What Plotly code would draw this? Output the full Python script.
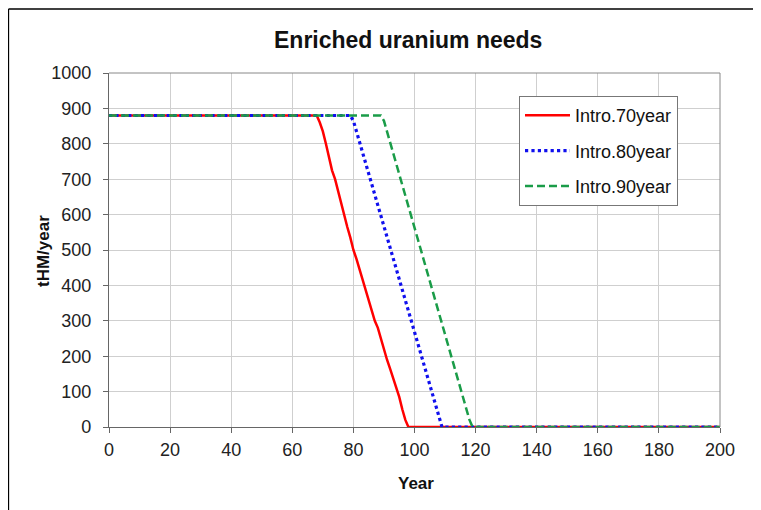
import plotly.graph_objects as go

# Data
years_70 = [0, 68, 69, 70, 71, 72, 73, 74, 75, 76, 77, 78, 79, 80, 81, 82, 83, 84, 85, 86, 87, 88, 89,
            90, 91, 92, 93, 94, 95, 96, 97, 98, 200]
needs_70 = [880, 880, 860, 835, 800, 760, 725, 700, 665, 630, 600, 565, 535, 500, 475, 445, 415, 385, 360,
            330, 300, 280, 250, 215, 190, 165, 140, 115, 85, 50, 20, 0, 0]

years_80 = [0, 79, 80, 81, 82, 83, 84, 85, 86, 87, 88, 89, 90, 91, 92, 93, 94, 95, 96, 97, 98, 99,
            100, 101, 102, 103, 104, 105, 106, 107, 108, 109, 200]
needs_80 = [880, 880, 865, 835, 805, 775, 745, 715, 685, 655, 625, 595, 565, 535, 505, 475, 445, 415,
            385, 355, 325, 295, 265, 235, 205, 175, 145, 115, 85, 55, 25, 0, 0]

years_90 = [0, 89, 90, 91, 92, 93, 94, 95, 96, 97, 98, 99, 100, 101, 102, 103, 104, 105, 106, 107,
            108, 109, 110, 111, 112, 113, 114, 115, 116, 117, 118, 119, 200]
needs_90 = [880, 880, 865, 835, 800, 770, 740, 710, 680, 650, 620, 590, 560, 530, 500, 470, 440, 410,
            380, 350, 320, 290, 260, 230, 200, 170, 140, 110, 80, 50, 20, 0, 0]

series_names = ["Intro.70year", "Intro.80year", "Intro.90year"]
x_ticks = [0, 20, 40, 60, 80, 100, 120, 140, 160, 180, 200]
y_ticks = [0, 100, 200, 300, 400, 500, 600, 700, 800, 900, 1000]

# the page body has an 8px margin, so the figure is laid out in shifted coordinates
OFF = 8
W, H = 761 - OFF, 510 - OFF
L, T = 109 - OFF, 73 - OFF
pw, ph = 611, 354
R, B = W - L - pw, H - T - ph

def px_x(x):   # page-pixel x -> paper x
    return (x - OFF - L) / pw

def px_y(y):   # page-pixel y -> paper y
    return 1 - (y - OFF - T) / ph

FONT = "Arial, Liberation Sans, sans-serif"

fig = go.Figure()
fig.add_trace(go.Scatter(x=years_70, y=needs_70, mode="lines", name=series_names[0],
                         legendgroup="a", line=dict(color="#ff0000", width=2.5)))
fig.add_trace(go.Scatter(x=years_80, y=needs_80, mode="lines", name=series_names[1],
                         legendgroup="b", line=dict(color="#1010ee", width=3.2, dash="dot")))
fig.add_trace(go.Scatter(x=years_90, y=needs_90, mode="lines", name=series_names[2],
                         legendgroup="c", line=dict(color="#1a9c48", width=2.5, dash="8px,4px")))

tick_font = dict(family=FONT, size=18, color="#222222")

fig.update_layout(
    width=W, height=H,
    margin=dict(l=L, r=R, t=T, b=B),
    paper_bgcolor="white", plot_bgcolor="white",
    showlegend=True,
    legend=dict(x=px_x(519), y=px_y(96), xanchor="left", yanchor="top",
                bgcolor="white", bordercolor="#777777", borderwidth=1,
                font=dict(family=FONT, size=18, color="#111111"),
                tracegroupgap=9, itemwidth=45),
    xaxis=dict(range=[0, 200], tickvals=x_ticks, ticktext=[str(v) for v in x_ticks],
               showgrid=True, gridcolor="#cfcfcf", gridwidth=1,
               showline=True, linecolor="#666666", linewidth=1.2, mirror=False,
               ticks="outside", ticklen=5, tickcolor="#666666",
               tickfont=tick_font, zeroline=False, ticklabelstandoff=1),
    yaxis=dict(range=[0, 1000], tickvals=y_ticks, ticktext=[str(v) for v in y_ticks],
               showgrid=True, gridcolor="#cfcfcf", gridwidth=1,
               showline=True, linecolor="#666666", linewidth=1.2, mirror=False,
               ticks="outside", ticklen=5, tickcolor="#666666",
               tickfont=tick_font, zeroline=False, ticklabelstandoff=8),
    annotations=[
        dict(text="<b>Enriched uranium needs</b>", xref="paper", yref="paper",
             x=px_x(408), y=px_y(40), xanchor="center", yanchor="middle", showarrow=False,
             font=dict(family=FONT, size=23, color="#111111")),
        dict(text="<b>Year</b>", xref="paper", yref="paper",
             x=px_x(416), y=px_y(483), xanchor="center", yanchor="middle", showarrow=False,
             font=dict(family=FONT, size=17, color="#111111")),
        dict(text="<b>tHM/year</b>", xref="paper", yref="paper", textangle=-90,
             x=px_x(43), y=px_y(251), xanchor="center", yanchor="middle", showarrow=False,
             font=dict(family=FONT, size=17, color="#111111")),
    ],
    shapes=[
        # top and right plot border
        dict(type="line", xref="paper", yref="paper", x0=0, x1=1, y0=1, y1=1,
             line=dict(color="#888888", width=1)),
        dict(type="line", xref="paper", yref="paper", x0=1, x1=1, y0=0, y1=1,
             line=dict(color="#888888", width=1)),
        # outer frame (left and top edges visible)
        dict(type="line", xref="paper", yref="paper",
             x0=px_x(8.5), x1=px_x(8.5), y0=px_y(530), y1=px_y(9),
             line=dict(color="#000000", width=1.3)),
        dict(type="line", xref="paper", yref="paper",
             x0=px_x(8.5), x1=px_x(780), y0=px_y(9), y1=px_y(9),
             line=dict(color="#000000", width=1.3)),
    ],
)

fig.write_html("out.html")
